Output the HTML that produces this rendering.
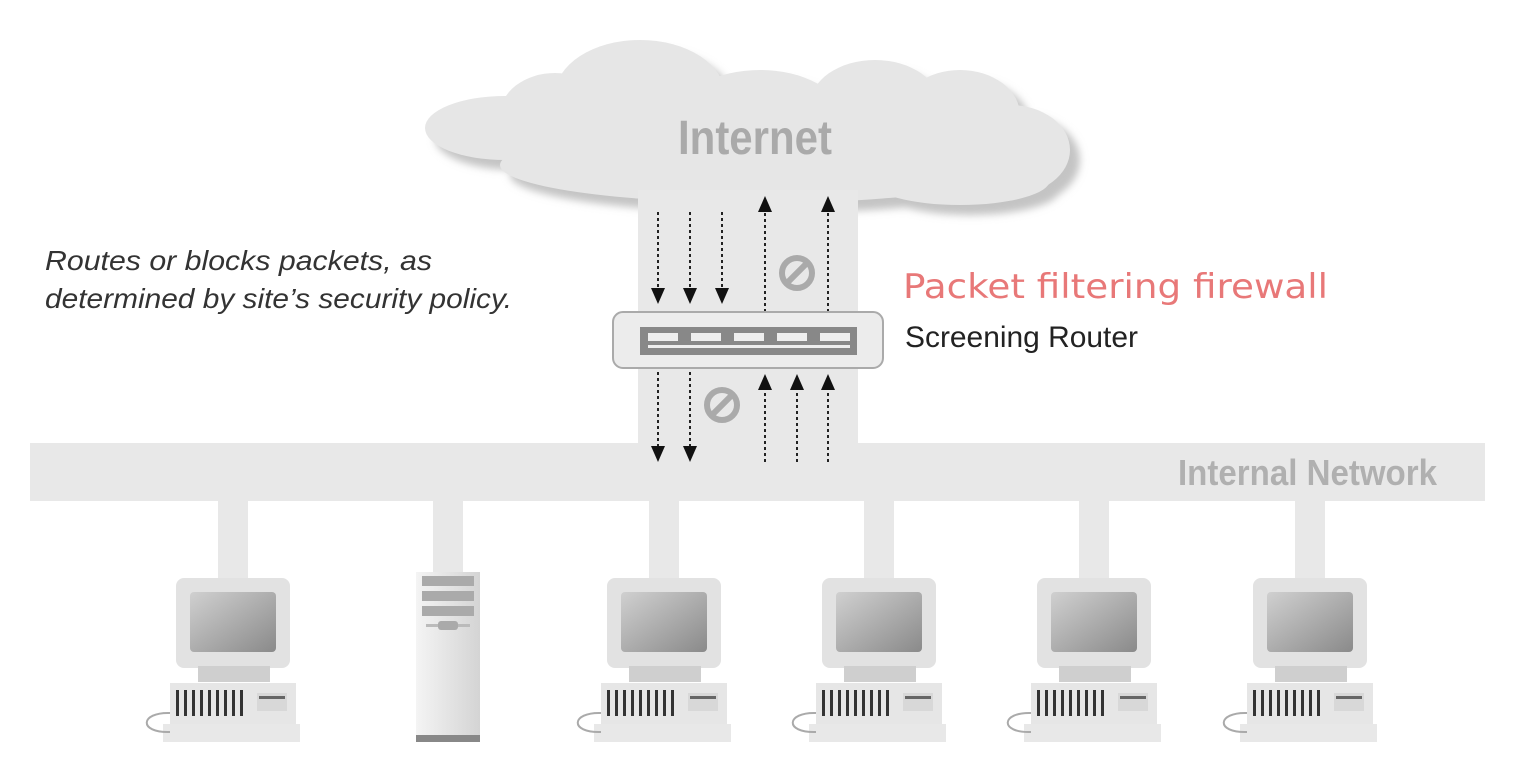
<!DOCTYPE html>
<html><head><style>
html,body{margin:0;padding:0;background:#fff;}
svg{display:block;}
</style></head><body>
<svg width="1520" height="778" viewBox="0 0 1520 778" xmlns="http://www.w3.org/2000/svg">
<defs>
<filter id="bl" x="-10%" y="-10%" width="120%" height="130%"><feGaussianBlur stdDeviation="4"/></filter>
<linearGradient id="scr" x1="0" y1="0" x2="1" y2="1"><stop offset="0" stop-color="#d0d0d0"/><stop offset="1" stop-color="#8a8a8a"/></linearGradient>
<linearGradient id="twr" x1="0" y1="0" x2="1" y2="0"><stop offset="0" stop-color="#f4f4f4"/><stop offset="1" stop-color="#d4d4d4"/></linearGradient>
<g id="cloud">
<ellipse cx="505" cy="128" rx="80" ry="32"/>
<ellipse cx="555" cy="115" rx="55" ry="42"/>
<ellipse cx="640" cy="95" rx="85" ry="55"/>
<ellipse cx="760" cy="115" rx="80" ry="45"/>
<ellipse cx="875" cy="105" rx="65" ry="45"/>
<ellipse cx="960" cy="115" rx="60" ry="45"/>
<ellipse cx="1010" cy="150" rx="60" ry="45"/>
<ellipse cx="760" cy="165" rx="260" ry="38"/>
<ellipse cx="960" cy="180" rx="90" ry="25"/>
</g>
<g id="pc">
<rect x="218" y="500" width="30" height="80" fill="#e8e8e8"/>
<rect x="176" y="578" width="114" height="90" rx="8" fill="#e2e2e2"/>
<rect x="190" y="592" width="86" height="60" rx="4" fill="url(#scr)"/>
<rect x="198" y="666" width="72" height="16" fill="#cfcfcf"/>
<rect x="170" y="683" width="126" height="42" fill="#e6e6e6"/>
<g fill="#333"><rect x="176" y="690" width="3" height="26"/><rect x="184" y="690" width="3" height="26"/><rect x="192" y="690" width="3" height="26"/><rect x="200" y="690" width="3" height="26"/><rect x="208" y="690" width="3" height="26"/><rect x="216" y="690" width="3" height="26"/><rect x="224" y="690" width="3" height="26"/><rect x="232" y="690" width="3" height="26"/><rect x="240" y="690" width="3" height="26"/></g>
<rect x="257" y="693" width="30" height="18" fill="#d8d8d8"/>
<rect x="259" y="696" width="26" height="3" fill="#666"/>
<rect x="163" y="724" width="137" height="18" fill="#e8e8e8"/>
<path d="M170 713 C140 712 138 733 170 732" fill="none" stroke="#aaa" stroke-width="2"/>
</g>
<marker id="ah" markerWidth="16" markerHeight="16" refX="8" refY="7" orient="auto" markerUnits="userSpaceOnUse"><path d="M0 0 L16 7 L0 14 Z" fill="#111"/></marker>
</defs>
<!-- cloud -->
<g fill="#c4c4c4" filter="url(#bl)" transform="translate(10,10)"><use href="#cloud"/></g>
<g fill="#e6e6e6"><use href="#cloud"/></g>
<text x="678" y="154" textLength="154" lengthAdjust="spacingAndGlyphs" font-family="Liberation Sans, sans-serif" font-weight="bold" font-size="48" fill="#aaa">Internet</text>
<!-- vertical band and network -->
<rect x="638" y="190" width="220" height="260" fill="#e8e8e8"/>
<rect x="30" y="443" width="1455" height="58" fill="#e8e8e8"/>
<text x="1178" y="485" textLength="259" lengthAdjust="spacingAndGlyphs" font-family="Liberation Sans, sans-serif" font-weight="bold" font-size="36" fill="#b0b0b0">Internal Network</text>
<!-- arrows -->
<g stroke="#222" stroke-width="2" stroke-dasharray="3,3" marker-end="url(#ah)">
<line x1="658" y1="212" x2="658" y2="296"/>
<line x1="690" y1="212" x2="690" y2="296"/>
<line x1="722" y1="212" x2="722" y2="296"/>
<line x1="765" y1="312" x2="765" y2="204"/>
<line x1="828" y1="312" x2="828" y2="204"/>
<line x1="658" y1="372" x2="658" y2="454"/>
<line x1="690" y1="372" x2="690" y2="454"/>
<line x1="765" y1="462" x2="765" y2="382"/>
<line x1="797" y1="462" x2="797" y2="382"/>
<line x1="828" y1="462" x2="828" y2="382"/>
</g>
<!-- prohibit -->
<g stroke="#aaa" fill="none" stroke-width="6">
<circle cx="797" cy="273" r="15"/><line x1="787" y1="283" x2="807" y2="263"/>
<circle cx="722" cy="405" r="15"/><line x1="712" y1="415" x2="732" y2="395"/>
</g>
<!-- router -->
<rect x="613" y="312" width="270" height="56" rx="10" fill="#ececec" stroke="#aaa" stroke-width="2"/>
<rect x="640" y="327" width="217" height="28" fill="#888"/>
<g fill="#eee"><rect x="648" y="333" width="30" height="8"/><rect x="691" y="333" width="30" height="8"/><rect x="734" y="333" width="30" height="8"/><rect x="777" y="333" width="30" height="8"/><rect x="820" y="333" width="30" height="8"/><rect x="648" y="345" width="202" height="3"/></g>
<!-- texts -->
<g font-family="Liberation Sans, sans-serif" font-style="italic" font-size="28" fill="#333" lengthAdjust="spacingAndGlyphs">
<text x="45" y="270" textLength="387" lengthAdjust="spacingAndGlyphs">Routes or blocks packets, as</text>
<text x="45" y="308" textLength="467" lengthAdjust="spacingAndGlyphs">determined by site’s security policy.</text>
</g>
<text x="903" y="298" textLength="425" lengthAdjust="spacingAndGlyphs" font-family="DejaVu Sans, sans-serif" font-size="34" fill="#e87878">Packet filtering firewall</text>
<text x="905" y="347" textLength="233" lengthAdjust="spacingAndGlyphs" font-family="Liberation Sans, sans-serif" font-size="30" fill="#222">Screening Router</text>
<!-- computers -->
<use href="#pc"/>
<use href="#pc" transform="translate(431,0)"/>
<use href="#pc" transform="translate(646,0)"/>
<use href="#pc" transform="translate(861,0)"/>
<use href="#pc" transform="translate(1077,0)"/>
<!-- tower -->
<rect x="433" y="500" width="30" height="75" fill="#e8e8e8"/>
<rect x="416" y="572" width="64" height="170" fill="url(#twr)"/>
<rect x="422" y="576" width="52" height="10" fill="#aaa"/>
<rect x="422" y="591" width="52" height="10" fill="#aaa"/>
<rect x="422" y="606" width="52" height="10" fill="#aaa"/>
<rect x="426" y="624" width="44" height="3" fill="#bbb"/>
<rect x="438" y="621" width="20" height="9" rx="3" fill="#aaa"/>
<rect x="416" y="735" width="64" height="7" fill="#888"/>
</svg>
</body></html>
